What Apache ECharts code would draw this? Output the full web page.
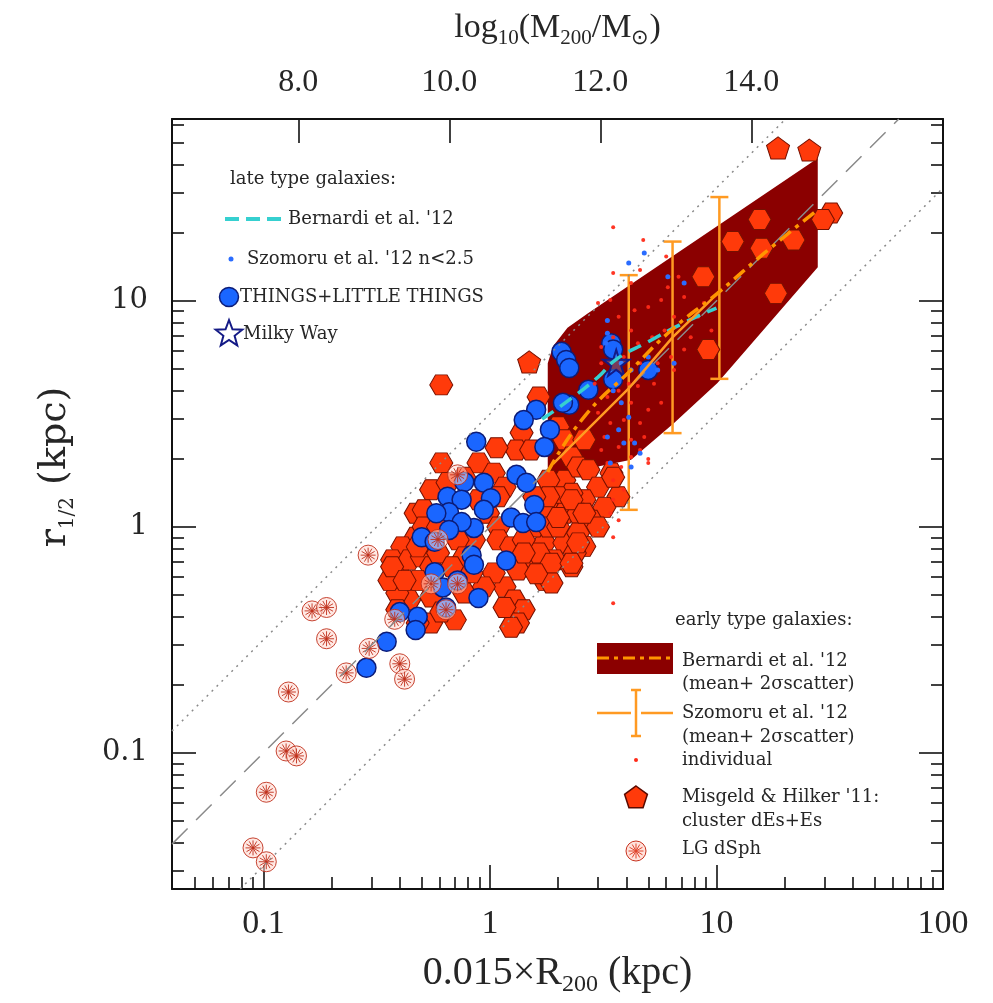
<!DOCTYPE html>
<html><head><meta charset="utf-8">
<script src="https://cdn.jsdelivr.net/npm/echarts@6/dist/echarts.min.js"></script>
<style>html,body{margin:0;padding:0;background:#fff}#c{width:993px;height:1003px}</style>
</head><body><div id="c"></div>
<script>
// ---------- axis extents & ticks ----------
const X_MIN = 0.0395, X_MAX = 100;
const Y_MIN = 0.025, Y_MAX = 63.8;
const M_MIN = 6.328, M_MAX = 16.538;
const xMajorTicks = [0.1, 1, 10, 100];
const xTickLabels = ['0.1', '1', '10', '100'];
const xMinorTicks = [0.05,0.06,0.07,0.08,0.09,0.2,0.3,0.4,0.5,0.6,0.7,0.8,0.9,2,3,4,5,6,7,8,9,20,30,40,50,60,70,80,90];
const yMajorTicks = [0.1, 1, 10];
const yTickLabels = ['0.1', '1', '10'];
const yMinorTicks = [0.03,0.04,0.05,0.06,0.07,0.08,0.09,0.2,0.3,0.4,0.5,0.6,0.7,0.8,0.9,2,3,4,5,6,7,8,9,20,30,40,50,60];
const mTicks = [8, 10, 12, 14];
const mTickLabels = ['8.0', '10.0', '12.0', '14.0'];

// ---------- reference relations ----------
const oneToOneX = [0.0395, 63.8];
const oneToOneY = [0.0395, 63.8];
const upperDotX = [0.0395, 20.2];
const upperDotY = [0.125, 63.8];
const lowerDotX = [0.079, 100];
const lowerDotY = [0.025, 31.6];

// ---------- Bernardi '12 early type band (mean +- 2 sigma) ----------
const bandX = [1.8, 1.8, 1.9, 2.2, 2.7, 28, 28, 10.1, 6.5, 4.2, 3.0, 1.8];
const bandY = [1.66, 5.3, 6.3, 7.6, 8.8, 42.8, 14.1, 4.33, 2.88, 1.98, 1.85, 1.66];
const etgMeanX = [1.8, 2.6, 4.2, 6.3, 10.1, 16.3, 28];
const etgMeanY = [1.75, 3.06, 4.95, 7.4, 10.8, 16.3, 25.3];
// Bernardi '12 late type
const ltgMeanX = [1.7, 2.2, 3.0, 3.6, 5.0, 7.0, 10.0];
const ltgMeanY = [3.0, 3.6, 4.6, 5.5, 6.6, 7.9, 9.3];
// Szomoru '12 early type mean + 2 sigma
const szMeanX = [1.9, 4.1, 6.4, 10.3];
const szMeanY = [1.9, 4.1, 6.9, 11.0];
const szErrX = [4.1, 6.4, 10.3];
const szErrLo = [1.19, 2.6, 4.52];
const szErrHi = [13.0, 18.3, 28.8];

// ---------- Misgeld & Hilker '11 ----------
const hexX = [1.64,1.38,1.31,1.52,2.0,2.13,2.29,2.61,2.13,1.81,2.45,2.72,3.44,3.0,3.69,3.2,2.61,2.29,2.0,1.87,2.13,2.45,2.8,3.0,
  0.61,0.55,0.47,0.51,0.89,0.77,1.04,1.16,0.98,1.09,0.85,0.72,0.47,0.41,0.37,0.39,0.44,0.5,0.55,
  1.74,2.13,1.93,2.29,1.74,1.52,1.33,1.16,1.28,1.41,1.33,1.04,0.94,0.7,0.55,0.48,0.44,0.39,0.36,0.37,
  1.57,1.81,1.64,2.0,2.45,2.61,2.37,0.89,1.09,0.65,0.51,0.59,0.48,0.59,0.77,0.68,0.83,0.77,0.55,0.48,0.42,0.39,0.61,
  1.09,1.24,1.41,1.41,1.81,1.57,1.24,1.16,1.07,0.61,
  2.29,2.61,3.5,2.45,1.87,2.29,1.87,2.0,1.6,
  18.3,15.5,11.8,15.8,21.9,8.75,9.2,32.1,29.5];
const hexY = [3.76,2.61,2.19,2.19,2.77,2.43,2.04,2.43,1.61,1.61,1.84,1.79,1.73,1.5,1.36,1.22,1.32,1.41,1.36,1.15,1.15,1.15,1.07,1.0,
  1.92,1.46,1.15,1.19,1.92,1.66,1.73,1.5,1.15,1.0,0.876,0.876,0.9,0.816,0.715,0.645,0.715,0.737,0.666,
  0.85,0.85,0.715,0.666,0.58,0.666,0.645,0.543,0.475,0.43,0.376,0.626,0.543,0.388,0.376,0.376,0.475,0.51,0.58,0.666,
  1.0,1.0,0.767,1.0,0.94,0.82,0.767,1.32,1.36,1.57,1.0,1.0,0.816,0.767,0.737,0.666,0.626,0.51,0.49,0.58,0.58,0.43,0.42,
  0.876,0.816,0.876,0.767,1.36,1.36,0.36,0.44,2.24,4.25,
  1.32,1.15,1.66,0.85,0.69,0.69,0.565,1.1,0.62,
  10.8,22.9,18.3,17.1,18.6,12.8,6.1,24.5,22.9];
const pentX = [1.49, 18.7, 25.7];
const pentY = [5.37, 47.5, 46.5];

// ---------- THINGS + LITTLE THINGS ----------
const thingsX = [2.07,2.17,2.24,2.72,2.24,2.1,1.6,1.41,1.84,1.74,0.87,1.31,1.45,1.57,1.24,1.4,1.6,0.94,1.01,0.94,0.85,0.77,0.65,0.75,0.66,0.58,0.75,0.66,0.5,0.57,0.83,0.85,1.18,0.57,0.62,0.72,0.89,0.64,0.48,0.47,0.4,0.35,0.285,3.43,3.5,5.0,3.5];
const thingsY = [5.95,5.48,5.05,4.04,3.47,3.54,3.3,2.97,2.69,2.26,2.38,1.7,1.57,1.25,1.1,1.04,1.05,1.57,1.34,1.19,0.99,1.58,1.36,1.32,1.16,1.15,1.05,0.97,0.9,0.86,0.75,0.68,0.71,0.63,0.54,0.58,0.485,0.44,0.4,0.35,0.42,0.31,0.238,6.5,6.1,4.95,4.5];

// ---------- LG dSph ----------
const dsphX = [0.29,0.164,0.19,0.19,0.293,0.232,0.4,0.42,0.129,0.126,0.14,0.103,0.09,0.103,0.72,0.59,0.55,0.72,0.64,0.38];
const dsphY = [0.75,0.425,0.44,0.32,0.29,0.226,0.248,0.212,0.186,0.102,0.097,0.067,0.038,0.033,1.7,0.88,0.56,0.56,0.43,0.39];

// ---------- Szomoru '12 individual ----------
const szRedX = [3.5,4.75,6.0,3.5,4.6,4.2,6.8,6.1,7.2,5.7,5.0,4.35,6.5,8.3,8.8,9.5,7.7,5.9,5.2,4.5,4.2,3.7,3.5,3.9,4.6,5.5,6.3,7.2,6.5,5.3,4.5,4.1,3.7,3.3,4.2,5.0,5.7,4.6,3.9,3.4,3.2,3.7,4.2,4.8,4.2,3.8,5.0,3.5,3.9,3.5,3.4,3.7,3.5,3.5,3.0,3.4,3.1,3.1,2.9,3.0,3.1,3.3,5.0,4.6];
const szRedY = [21.2,18.6,15.7,13.3,13.7,12.0,12.8,11.5,10.4,10.1,9.4,9.1,8.5,8.5,9.8,7.4,6.9,7.4,6.9,6.5,7.4,8.5,6.9,5.65,5.3,5.3,5.65,6.1,4.95,4.3,4.2,4.3,4.0,3.76,3.54,3.3,3.54,2.88,2.97,2.88,2.5,2.26,2.43,2.5,2.04,1.84,1.92,1.61,1.46,1.32,1.15,1.07,0.9,0.46,9.8,10.1,6.25,5.3,4.3,3.2,2.19,1.92,2.0,2.19];
const szBlueX = [4.8,4.1,6.1,7.2,3.3,3.3,3.8,4.2,3.5,3.8,4.1,3.7,3.3,3.9,4.35,4.6,3.4,4.2,5.5,6.5,5.0,3.25];
const szBlueY = [16.3,14.7,12.8,12.0,8.2,7.2,5.3,4.95,4.0,3.54,3.06,2.69,2.5,2.35,2.35,2.12,1.92,1.84,4.95,5.3,5.65,6.5];
// Milky Way
const mwX = [3.61];
const mwY = [5.32];

// ---------- build ----------
const pairs = (xs, ys) => xs.map((x, i) => [x, ys[i]]);
const findLabel = (v, ticks, labels) => {
  for (let i = 0; i < ticks.length; i++) if (Math.abs(Math.log10(v) - Math.log10(ticks[i])) < 1e-3) return labels[i];
  return '';
};
const HEX = 'path://M-1,0L-0.5,-0.866L0.5,-0.866L1,0L0.5,0.866L-0.5,0.866Z';
const PENT = 'path://M0,-1L0.951,-0.309L0.588,0.809L-0.588,0.809L-0.951,-0.309Z';
const STAR = 'path://M0,-1L0.2245,-0.309L0.951,-0.309L0.363,0.118L0.588,0.809L0,0.382L-0.588,0.809L-0.363,0.118L-0.951,-0.309L-0.2245,-0.309Z';
const DSPH = 'path://M1,0A1,1,0,1,1,-1,0A1,1,0,1,1,1,0Z' +
  'M0,-0.75L0,0.75M-0.75,0L0.75,0M-0.375,-0.65L0.375,0.65M-0.375,0.65L0.375,-0.65M-0.65,-0.375L0.65,0.375M-0.65,0.375L0.65,-0.375';

const C_HEX = '#ff3a0a', C_HEXB = '#761000';
const C_BLUE = '#1a66ff', C_BLUEB = '#0c1c78';
const C_BAND = '#8b0000', C_ORANGE = '#ff9a22', C_CYAN = '#36d0d0';
const SERIF = 'Liberation Serif';
const LSERIF = 'DejaVu Serif';
const TXT = '#262626';

const tickLine = {color: '#111', width: 1.6};
const baseLog = (extra) => Object.assign({type: 'log', logBase: 10, splitLine: {show: false}}, extra);

const xAxes = [
  baseLog({min: X_MIN, max: X_MAX, position: 'bottom',
    axisLine: {show: true, onZero: false, lineStyle: {color: '#111', width: 2}},
    axisTick: {show: true, inside: true, length: 24, customValues: xMajorTicks, lineStyle: tickLine},
    axisLabel: {show: true, customValues: xMajorTicks, margin: 18, fontSize: 34, fontFamily: SERIF, color: TXT,
      formatter: v => findLabel(v, xMajorTicks, xTickLabels)},
    name: '{m|0.015×R}{s|200}{m| (kpc)}', nameLocation: 'middle', nameGap: 60,
    nameTextStyle: {rich: {m: {fontSize: 40, fontFamily: SERIF, color: TXT, lineHeight: 48},
      s: {fontSize: 24, fontFamily: SERIF, color: TXT, lineHeight: 24, verticalAlign: 'bottom'}}}}),
  baseLog({min: X_MIN, max: X_MAX, position: 'bottom',
    axisLine: {show: false, onZero: false},
    axisTick: {show: true, inside: true, length: 12, customValues: xMinorTicks, lineStyle: tickLine},
    axisLabel: {show: false}}),
  {type: 'value', min: M_MIN, max: M_MAX, position: 'top', splitLine: {show: false},
    axisLine: {show: true, onZero: false, lineStyle: {color: '#111', width: 2}},
    axisTick: {show: true, inside: true, length: 24, customValues: mTicks, lineStyle: tickLine},
    axisLabel: {show: true, customValues: mTicks, margin: 20, fontSize: 32, fontFamily: SERIF, color: TXT,
      formatter: v => { const i = mTicks.findIndex(t => Math.abs(t - v) < 1e-6); return i >= 0 ? mTickLabels[i] : ''; }},
    name: '{m|log}{s|10}{m|(M}{s|200}{m|/M}{s|⊙}{m|)}', nameLocation: 'middle', nameGap: 70,
    nameTextStyle: {rich: {m: {fontSize: 34, fontFamily: SERIF, color: TXT, lineHeight: 42},
      s: {fontSize: 21, fontFamily: SERIF, color: TXT, lineHeight: 21, verticalAlign: 'bottom'}}}}
];
const yAxes = [
  baseLog({min: Y_MIN, max: Y_MAX, position: 'left',
    axisLine: {show: true, onZero: false, lineStyle: {color: '#111', width: 2}},
    axisTick: {show: true, inside: true, length: 24, customValues: yMajorTicks, lineStyle: tickLine},
    axisLabel: {show: true, customValues: yMajorTicks, margin: 24, fontSize: 29, fontFamily: LSERIF, color: TXT,
      formatter: v => findLabel(v, yMajorTicks, yTickLabels)}}),
  baseLog({min: Y_MIN, max: Y_MAX, position: 'left',
    axisLine: {show: false, onZero: false},
    axisTick: {show: true, inside: true, length: 12, customValues: yMinorTicks, lineStyle: tickLine},
    axisLabel: {show: false}}),
  baseLog({min: Y_MIN, max: Y_MAX, position: 'right',
    axisLine: {show: true, onZero: false, lineStyle: {color: '#111', width: 2}},
    axisTick: {show: true, inside: true, length: 24, customValues: yMajorTicks, lineStyle: tickLine},
    axisLabel: {show: false}}),
  baseLog({min: Y_MIN, max: Y_MAX, position: 'right',
    axisLine: {show: false, onZero: false},
    axisTick: {show: true, inside: true, length: 12, customValues: yMinorTicks, lineStyle: tickLine},
    axisLabel: {show: false}})
];

const refLine = (xs, ys, type) => ({type: 'line', data: pairs(xs, ys), symbol: 'none', silent: true,
  lineStyle: {color: '#8a8a8a', width: 1.5, type: type}});

const series = [
  {type: 'custom', silent: true, data: [[bandX[0], bandY[0]]],
    renderItem: (params, api) => {
      const pts = bandX.map((x, i) => api.coord([x, bandY[i]]));
      return {type: 'polygon', shape: {points: pts, smooth: 0}, style: {fill: C_BAND}};
    }},
  refLine(oneToOneX, oneToOneY, [22, 12]),
  refLine(upperDotX, upperDotY, [2, 5]),
  refLine(lowerDotX, lowerDotY, [2, 5]),
  {type: 'scatter', data: pairs(hexX, hexY), symbol: HEX, symbolSize: [23, 20],
    itemStyle: {color: C_HEX, borderColor: C_HEXB, borderWidth: 1, opacity: 1}},
  {type: 'scatter', data: pairs(pentX, pentY), symbol: PENT, symbolSize: [23, 22],
    itemStyle: {color: C_HEX, borderColor: C_HEXB, borderWidth: 1, opacity: 1}},
  {type: 'scatter', data: pairs(thingsX, thingsY), symbol: 'circle', symbolSize: 19,
    itemStyle: {color: C_BLUE, borderColor: C_BLUEB, borderWidth: 1.5, opacity: 1}},
  {type: 'scatter', data: pairs(dsphX, dsphY), symbol: DSPH, symbolSize: 20,
    itemStyle: {color: 'rgba(255,215,205,0.6)', borderColor: '#c0301c', borderWidth: 1, opacity: 0.9}},
  {type: 'scatter', data: pairs(szRedX, szRedY), symbol: 'circle', symbolSize: 4,
    itemStyle: {color: '#ff2a18', opacity: 0.95}},
  {type: 'scatter', data: pairs(szBlueX, szBlueY), symbol: 'circle', symbolSize: 5,
    itemStyle: {color: '#2a6cff', opacity: 1}},
  {type: 'line', data: pairs(ltgMeanX, ltgMeanY), symbol: 'none', smooth: true,
    lineStyle: {color: C_CYAN, width: 3.5, type: [14, 8]}},
  {type: 'line', data: pairs(szMeanX, szMeanY), symbol: 'none',
    lineStyle: {color: C_ORANGE, width: 2.5}},
  {type: 'line', data: pairs(etgMeanX, etgMeanY), symbol: 'none', smooth: true,
    lineStyle: {color: '#ff9500', width: 3.5, type: [14, 6, 4, 6]}},
  {type: 'custom', data: szErrX.map((x, i) => [x, szErrLo[i], szErrHi[i]]), encode: {x: 0, y: [1, 2]},
    renderItem: (params, api) => {
      const p1 = api.coord([api.value(0), api.value(1)]);
      const p2 = api.coord([api.value(0), api.value(2)]);
      const w = 9, st = {stroke: C_ORANGE, lineWidth: 2.5};
      return {type: 'group', children: [
        {type: 'line', shape: {x1: p1[0], y1: p1[1], x2: p2[0], y2: p2[1]}, style: st},
        {type: 'line', shape: {x1: p1[0] - w, y1: p1[1], x2: p1[0] + w, y2: p1[1]}, style: st},
        {type: 'line', shape: {x1: p2[0] - w, y1: p2[1], x2: p2[0] + w, y2: p2[1]}, style: st}]};
    }},
  {type: 'scatter', data: pairs(mwX, mwY), symbol: STAR, symbolSize: 26,
    itemStyle: {color: 'rgba(90,170,255,0.35)', borderColor: '#141a86', borderWidth: 2, opacity: 1}}
];

// ---------- legends (graphic) ----------
const font = '18px "' + LSERIF + '"';
const T = (x, y, text) => ({type: 'text', x: x, y: y, style: {text: text, font: font, fill: TXT, textVerticalAlign: 'middle', textAlign: 'left'}, z: 100});
const starPts = (cx, cy, r) => { const p = []; for (let k = 0; k < 10; k++) { const a = -Math.PI / 2 + k * Math.PI / 5; const rr = k % 2 ? r * 0.42 : r; p.push([cx + rr * Math.cos(a), cy + rr * Math.sin(a)]); } return p; };
const polyPts = (cx, cy, r, n) => { const p = []; for (let k = 0; k < n; k++) { const a = -Math.PI / 2 + k * 2 * Math.PI / n; p.push([cx + r * Math.cos(a), cy + r * Math.sin(a)]); } return p; };
const dsphIcon = (cx, cy, r) => {
  const ch = [{type: 'circle', shape: {cx: cx, cy: cy, r: r}, style: {fill: 'rgba(255,220,212,0.8)', stroke: '#c8321e', lineWidth: 1}}];
  for (let k = 0; k < 6; k++) { const a = k * Math.PI / 6; ch.push({type: 'line', shape: {x1: cx - 0.75 * r * Math.cos(a), y1: cy - 0.75 * r * Math.sin(a), x2: cx + 0.75 * r * Math.cos(a), y2: cy + 0.75 * r * Math.sin(a)}, style: {stroke: '#e0442c', lineWidth: 1}}); }
  return {type: 'group', children: ch, z: 100};
};
const orSt = {stroke: C_ORANGE, lineWidth: 2.5};
const graphics = [
  T(230, 179, 'late type galaxies:'),
  {type: 'line', shape: {x1: 225, y1: 219, x2: 287, y2: 219}, style: {stroke: C_CYAN, lineWidth: 4, lineDash: [14, 7]}, z: 100},
  T(288, 219, "Bernardi et al. '12"),
  {type: 'circle', shape: {cx: 231, cy: 259, r: 2.5}, style: {fill: '#2a6cff'}, z: 100},
  T(247, 259, "Szomoru et al. '12 n<2.5"),
  {type: 'circle', shape: {cx: 229, cy: 297, r: 9.5}, style: {fill: C_BLUE, stroke: C_BLUEB, lineWidth: 1.5}, z: 100},
  T(240, 297, 'THINGS+LITTLE THINGS'),
  {type: 'polygon', shape: {points: starPts(229, 334, 14)}, style: {fill: '#fff', stroke: '#141a86', lineWidth: 2}, z: 100},
  T(243, 334, 'Milky Way'),

  T(675, 620, 'early type galaxies:'),
  {type: 'rect', shape: {x: 597, y: 643, width: 76, height: 31}, style: {fill: C_BAND}, z: 100},
  {type: 'line', shape: {x1: 597, y1: 658, x2: 673, y2: 658}, style: {stroke: '#ff9500', lineWidth: 3, lineDash: [12, 5, 4, 5]}, z: 101},
  T(682, 661, "Bernardi et al. '12"),
  T(682, 684, '(mean+ 2σscatter)'),
  {type: 'line', shape: {x1: 597, y1: 713, x2: 631, y2: 713}, style: orSt, z: 100},
  {type: 'line', shape: {x1: 641, y1: 713, x2: 673, y2: 713}, style: orSt, z: 100},
  {type: 'line', shape: {x1: 636, y1: 690, x2: 636, y2: 736}, style: orSt, z: 100},
  {type: 'line', shape: {x1: 631, y1: 690, x2: 641, y2: 690}, style: orSt, z: 100},
  {type: 'line', shape: {x1: 631, y1: 736, x2: 641, y2: 736}, style: orSt, z: 100},
  T(682, 713, "Szomoru et al. '12"),
  T(682, 737, '(mean+ 2σscatter)'),
  {type: 'circle', shape: {cx: 636, cy: 760, r: 2}, style: {fill: '#ff2a18'}, z: 100},
  T(682, 760, 'individual'),
  {type: 'polygon', shape: {points: polyPts(636, 798, 12, 5)}, style: {fill: C_HEX, stroke: '#5a0a00', lineWidth: 1.5}, z: 100},
  T(682, 797, "Misgeld & Hilker '11:"),
  T(682, 821, 'cluster dEs+Es'),
  dsphIcon(636, 851, 10),
  T(682, 849, 'LG dSph'),
  {type: 'text', x: 55, y: 467, rotation: Math.PI / 2, z: 100,
    style: {text: '{m|r}{s|1/2}{m| (kpc)}', textAlign: 'center', textVerticalAlign: 'middle',
      rich: {m: {fontSize: 38, fontFamily: LSERIF, fill: TXT, lineHeight: 46},
             s: {fontSize: 20, fontFamily: LSERIF, fill: TXT, lineHeight: 20, verticalAlign: 'bottom'}}}}
];

const chart = echarts.init(document.getElementById('c'), null, {renderer: 'canvas'});
chart.setOption({
  animation: false,
  backgroundColor: '#fff',
  grid: {left: 172, top: 119, width: 771, height: 770, containLabel: false},
  xAxis: xAxes,
  yAxis: yAxes,
  series: series,
  graphic: graphics
});
</script></body></html>
